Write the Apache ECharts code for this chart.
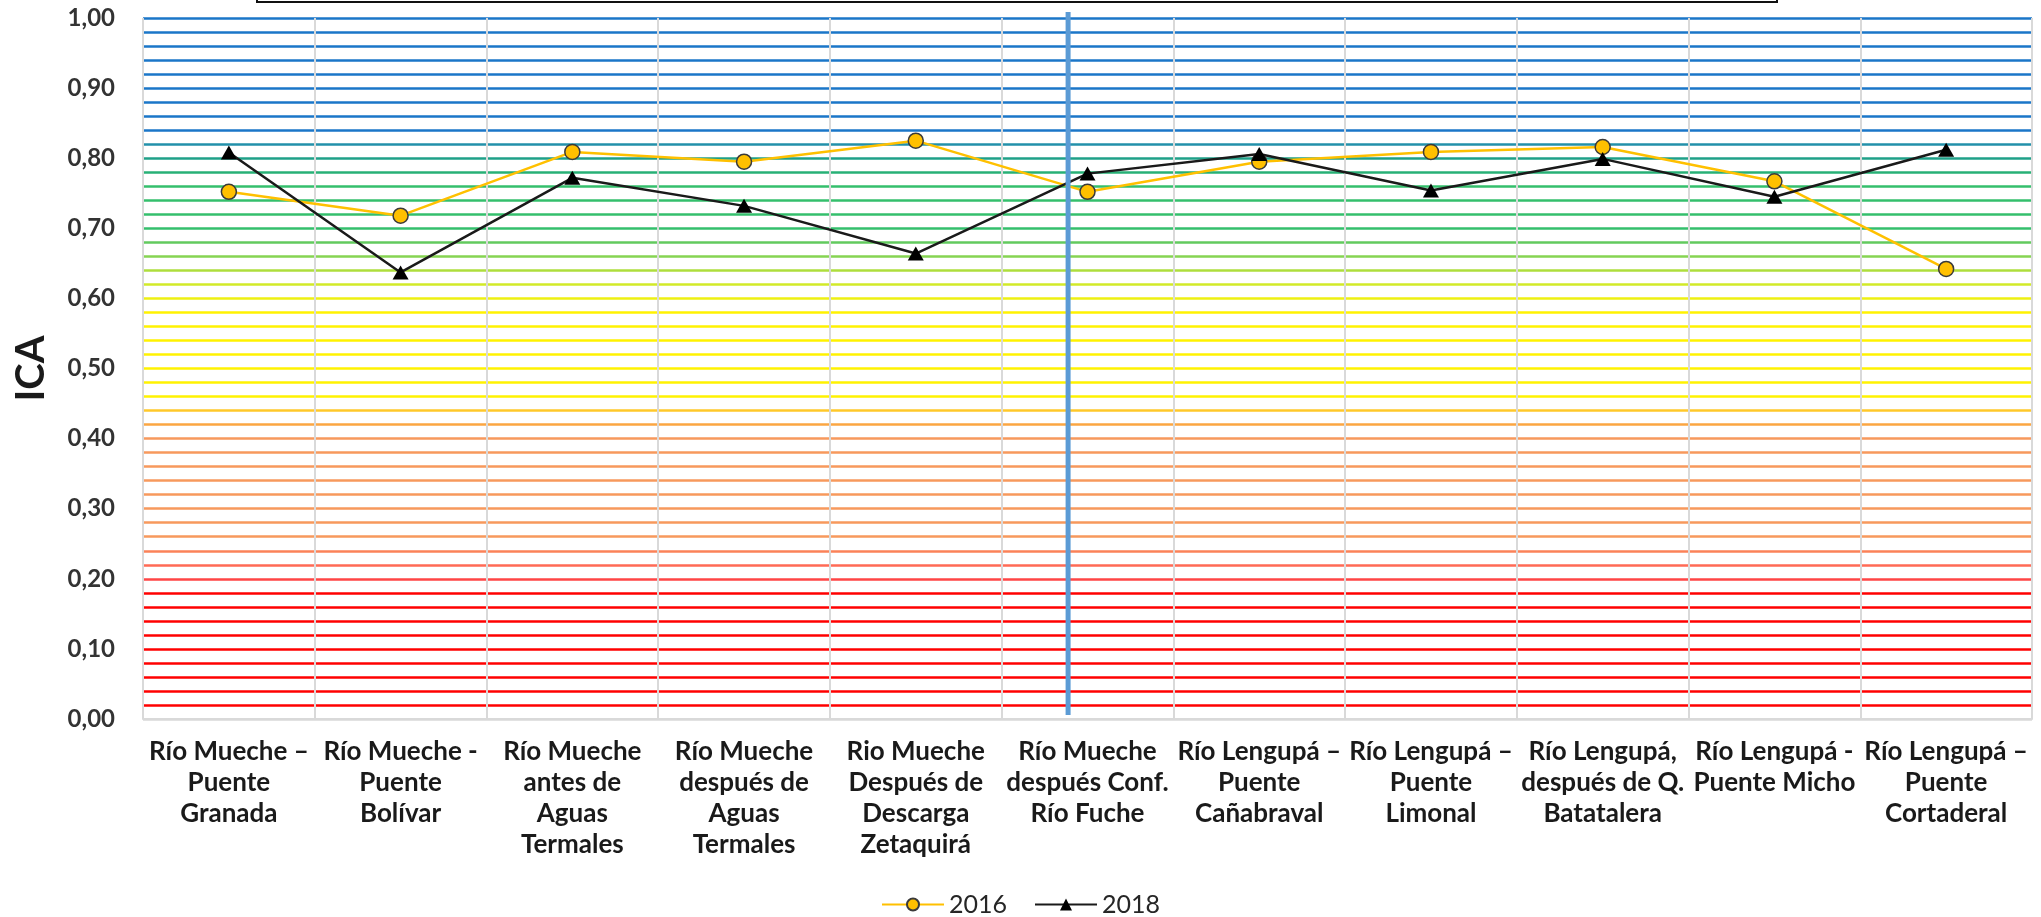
<!DOCTYPE html>
<html>
<head>
<meta charset="utf-8">
<script src="https://cdn.jsdelivr.net/npm/echarts@6/dist/echarts.min.js"></script>
<style>
html,body{margin:0;padding:0;background:#fff;}
#chart{width:2041px;height:917px;}
</style>
</head>
<body>
<div id="chart"></div>
<script>
// ---- data ----
const categories = [
  "Río Mueche –\nPuente\nGranada",
  "Río Mueche -\nPuente\nBolívar",
  "Río Mueche\nantes de\nAguas\nTermales",
  "Río Mueche\ndespués de\nAguas\nTermales",
  "Rio Mueche\nDespués de\nDescarga\nZetaquirá",
  "Río Mueche\ndespués Conf.\nRío Fuche",
  "Río Lengupá –\nPuente\nCañabraval",
  "Río Lengupá –\nPuente\nLimonal",
  "Río Lengupá,\ndespués de Q.\nBatatalera",
  "Río Lengupá -\nPuente Micho",
  "Río Lengupá –\nPuente\nCortaderal"
];
const seriesNames = ["2016", "2018"];
const ica2016 = [0.752, 0.718, 0.809, 0.795, 0.825, 0.752, 0.795, 0.809, 0.816, 0.767, 0.642];
const ica2018 = [0.808, 0.637, 0.772, 0.732, 0.664, 0.778, 0.806, 0.754, 0.799, 0.745, 0.812];
const yMin = 0, yMax = 1, yStep = 0.02, yLabelStep = 0.1;

// ---- style helpers ----
function bandColor(v) {
  const p = Math.round(v * 100);
  if (p === 0) return '#D9D9D9';
  if (p <= 18) return '#FF0000';
  if (p === 20) return '#FF4545';
  if (p === 22) return '#FF6A55';
  if (p === 24) return '#FB8258';
  if (p <= 40) return '#F7995C';
  if (p === 42) return '#FBA642';
  if (p === 44) return '#FFC82A';
  if (p <= 58) return '#FFF200';
  if (p === 60) return '#EEF012';
  if (p === 62) return '#D2EA28';
  if (p === 64) return '#AEDE3C';
  if (p === 66) return '#86D452';
  if (p === 68) return '#62CA5E';
  if (p <= 76) return '#34BF6C';
  if (p === 78) return '#27B076';
  if (p === 80) return '#1FA088';
  if (p === 82) return '#2290AA';
  return '#1A76C8';
}
const splitColors = [];
for (let i = 0; i <= Math.round((yMax - yMin) / yStep); i++) {
  splitColors.push(bandColor(yMin + i * yStep));
}

const FONT = 'Lato, "Open Sans", sans-serif';
const chart = echarts.init(document.getElementById('chart'), null, {renderer: 'canvas'});
const option = {
  animation: false,
  backgroundColor: '#ffffff',
  grid: {left: 143, right: 9, top: 18, bottom: 198, containLabel: false, outerBoundsMode: 'none'},
  legend: {
    data: seriesNames,
    top: 887,
    left: 'center',
    itemWidth: 62,
    itemHeight: 15,
    itemGap: 27,
    textStyle: {fontFamily: FONT, fontSize: 25, color: '#262626'}
  },
  xAxis: {
    type: 'category',
    data: categories,
    boundaryGap: true,
    axisLine: {show: true, lineStyle: {color: '#D9D9D9', width: 2}},
    axisTick: {show: false},
    splitLine: {show: true, lineStyle: {color: '#D9D9D9', width: 2}},
    axisLabel: {
      interval: 0,
      margin: 17,
      fontFamily: FONT,
      fontWeight: 'bold',
      fontSize: 26,
      lineHeight: 31,
      color: '#1a1a1a'
    }
  },
  yAxis: {
    type: 'value',
    min: yMin,
    max: yMax,
    interval: yStep,
    name: 'ICA',
    nameLocation: 'middle',
    nameGap: 92,
    nameTextStyle: {fontFamily: FONT, fontWeight: 'bold', fontSize: 40, color: '#1a1a1a'},
    axisLine: {show: false},
    axisTick: {show: false},
    axisLabel: {
      margin: 28,
      fontFamily: FONT,
      fontWeight: 'bold',
      fontSize: 24,
      color: '#333333',
      formatter: function (v) {
        const p = Math.round(v * 100);
        if (p % Math.round(yLabelStep * 100) !== 0) return '';
        return (p / 100).toFixed(2).replace('.', ',');
      }
    },
    splitLine: {show: true, lineStyle: {color: splitColors, width: 2.5}}
  },
  series: [
    {
      name: seriesNames[0],
      type: 'line',
      data: ica2016,
      symbol: 'circle',
      symbolSize: 15,
      lineStyle: {color: '#FFC000', width: 2.5},
      itemStyle: {color: '#FFC000', borderColor: '#3a3a3a', borderWidth: 1.5},
      z: 3
    },
    {
      name: seriesNames[1],
      type: 'line',
      data: ica2018,
      symbol: 'triangle',
      symbolSize: [16, 14],
      lineStyle: {color: '#1a1a1a', width: 2.5},
      itemStyle: {color: '#000000', borderColor: '#000000', borderWidth: 0},
      z: 4
    }
  ]
};
chart.setOption(option);

// decorations: separator line and cut-off title frame
const x4 = chart.convertToPixel({xAxisIndex: 0}, 4);
const x5 = chart.convertToPixel({xAxisIndex: 0}, 5);
const sepX = x4 + (x5 - x4) * 0.887;
const yTop = chart.convertToPixel({yAxisIndex: 0}, yMax);
const yBot = chart.convertToPixel({yAxisIndex: 0}, yMin);
chart.setOption({
  graphic: [
    {
      type: 'line',
      z: 10,
      shape: {x1: sepX, y1: yTop - 6, x2: sepX, y2: yBot - 4},
      style: {stroke: '#5B9BD5', lineWidth: 5}
    },
    {
      type: 'rect',
      z: 10,
      shape: {x: 257, y: -20, width: 1520, height: 22},
      style: {fill: 'none', stroke: '#111111', lineWidth: 2}
    }
  ]
});
</script>
</body>
</html>
